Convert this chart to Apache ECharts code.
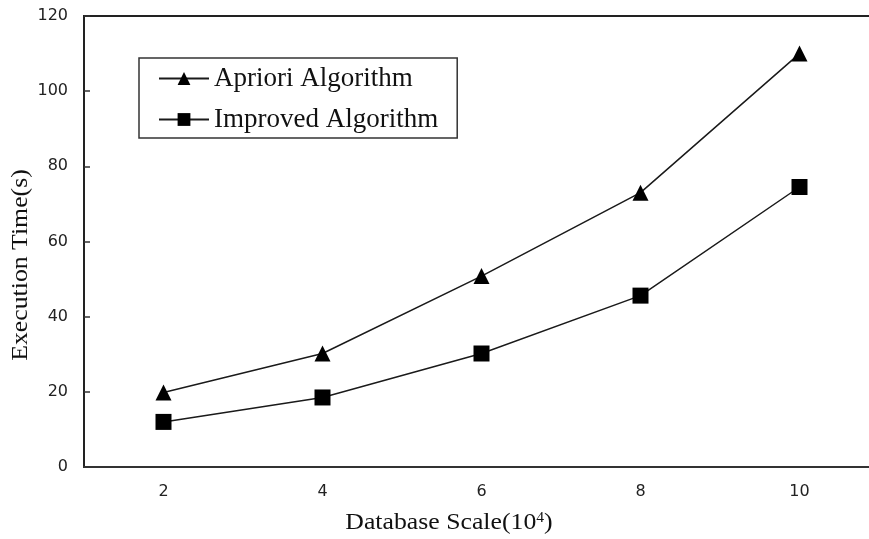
<!DOCTYPE html>
<html><head><meta charset="utf-8">
<script src="https://cdn.jsdelivr.net/npm/echarts@6/dist/echarts.min.js"></script>
<style>html,body{margin:0;padding:0;background:#fff;overflow:hidden;width:869px;height:539px}#c{width:885px;height:539px}</style>
</head><body><div id="c"></div>
<script>
const categories = ['2', '4', '6', '8', '10'];
const aprioriValues = [19.8, 30.2, 50.8, 73, 110];
const improvedValues = [12, 18.5, 30.2, 45.6, 74.5];
const yTicks = [0, 20, 40, 60, 80, 100, 120];

const chart = echarts.init(document.getElementById('c'), null, {renderer: 'canvas'});
const lineColor = '#1a1a1a';
chart.setOption({
  animation: false,
  backgroundColor: '#fff',
  grid: {left: 84, top: 16, width: 795, height: 451, containLabel: false, show: true, borderColor: '#222', borderWidth: 2, backgroundColor: 'transparent'},
  legend: {
    left: 139, top: 58, orient: 'vertical',
    padding: [7, 19, 5, 19],
    borderColor: '#333', borderWidth: 1.5,
    itemWidth: 50, itemHeight: 16, itemGap: 14,
    textStyle: {fontFamily: 'Liberation Serif', fontSize: 27, color: '#111'},
    data: ['Apriori Algorithm', 'Improved Algorithm']
  },
  xAxis: {
    type: 'category', data: categories, boundaryGap: true,
    axisLine: {lineStyle: {color: '#333', width: 2}},
    axisTick: {show: false},
    axisLabel: {fontFamily: 'DejaVu Sans', fontSize: 16, color: '#222', margin: 17}
  },
  yAxis: {
    type: 'value', min: yTicks[0], max: yTicks[yTicks.length - 1], interval: 20,
    axisLine: {show: true, lineStyle: {color: '#222', width: 2}},
    axisTick: {show: true, inside: true, length: 6, lineStyle: {color: '#333', width: 1.5}},
    splitLine: {show: false},
    axisLabel: {fontFamily: 'DejaVu Sans', fontSize: 16, color: '#222', margin: 16}
  },
  series: [
    {name: 'Apriori Algorithm', type: 'line', data: aprioriValues, symbol: 'triangle', symbolSize: 16,
     lineStyle: {color: lineColor, width: 1.5}, itemStyle: {color: '#000'}},
    {name: 'Improved Algorithm', type: 'line', data: improvedValues, symbol: 'rect', symbolSize: 16,
     lineStyle: {color: lineColor, width: 1.5}, itemStyle: {color: '#000'}}
  ],
  graphic: [
    {type: 'text', x: 21, y: 265, rotation: Math.PI / 2, scaleX: 1.12,
     style: {text: 'Execution Time(s)', font: '23px "Liberation Serif"', fill: '#111', align: 'center', verticalAlign: 'middle'}},
    {type: 'text', x: 449, y: 523, scaleX: 1.12,
     style: {align: 'center', verticalAlign: 'middle',
       rich: {n: {fontFamily: 'Liberation Serif', fontSize: 23, fill: '#111'}, s: {fontFamily: 'Liberation Serif', fontSize: 14, fill: '#111', padding: [0, 0, 10, 0]}},
       text: '{n|Database Scale(10}{s|4}{n|)}'}}
  ]
});
</script></body></html>
